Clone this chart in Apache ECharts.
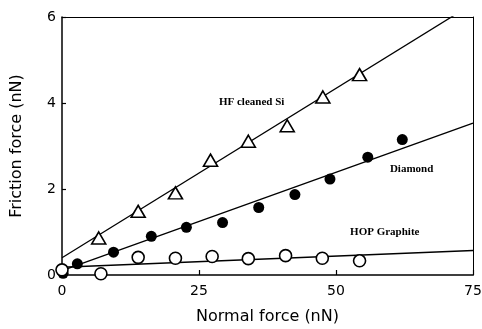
<!DOCTYPE html>
<html><head><meta charset="utf-8">
<script src="https://cdn.jsdelivr.net/npm/echarts@6/dist/echarts.min.js"></script>
<style>html,body{margin:0;padding:0;background:#fff}#c{width:482px;height:329px}</style>
</head><body><div id="c"></div>
<script>
// Data (Normal force nN, Friction force nN)
const hfSiX = [6.7, 13.9, 20.7, 27.1, 34.0, 41.1, 47.6, 54.3];
const hfSiY = [0.86, 1.48, 1.91, 2.67, 3.11, 3.47, 4.14, 4.66];
const diamondX = [0.2, 2.8, 9.4, 16.3, 22.7, 29.3, 35.9, 42.5, 48.9, 55.8, 62.1];
const diamondY = [0.04, 0.26, 0.53, 0.90, 1.11, 1.22, 1.57, 1.87, 2.23, 2.74, 3.15];
const graphiteX = [0.0, 7.1, 13.9, 20.7, 27.4, 34.0, 40.8, 47.5, 54.3];
const graphiteY = [0.12, 0.03, 0.41, 0.39, 0.43, 0.38, 0.45, 0.39, 0.33];
// Linear fit lines (endpoints)
const fitX = [0, 75];
const hfSiFit = [0.40, 6.31];
const diamondFit = [0.10, 3.53];
const graphiteFit = [0.18, 0.57];
// Annotations
const labelText = ['HF cleaned Si', 'Diamond', 'HOP Graphite'];
const labelX = [34.6, 63.8, 58.9];
const labelY = [4.02, 2.45, 0.99];
const xTicks = [0, 25, 50, 75];
const yTicks = [0, 2, 4, 6];

const pairs = (xs, ys) => xs.map((x, i) => [x, ys[i]]);
const chart = echarts.init(document.getElementById('c'));
const axFont = 'DejaVu Sans';
chart.setOption({
  animation: false,
  backgroundColor: '#fff',
  grid: { left: 62, right: 9, top: 17, bottom: 54, containLabel: false, outerBoundsMode: 'none' },
  xAxis: [{
    type: 'value', min: xTicks[0], max: xTicks[xTicks.length - 1], interval: 25,
    name: 'Normal force (nN)', nameLocation: 'middle', nameGap: 34,
    nameTextStyle: { fontFamily: axFont, fontSize: 16, color: '#000' },
    axisLine: { lineStyle: { color: '#000', width: 1.5 } },
    axisTick: { inside: true, length: 5, lineStyle: { color: '#000', width: 1.2 } },
    axisLabel: { fontFamily: axFont, fontSize: 14, color: '#000', margin: 9 },
    splitLine: { show: false }
  }, {
    type: 'value', position: 'top', min: 0, max: 75,
    axisLine: { show: true, onZero: false, lineStyle: { color: '#000', width: 1 } },
    axisTick: { show: false }, axisLabel: { show: false }, splitLine: { show: false }
  }],
  yAxis: [{
    type: 'value', min: yTicks[0], max: yTicks[yTicks.length - 1], interval: 2,
    name: 'Friction force (nN)', nameLocation: 'middle', nameGap: 37,
    nameTextStyle: { fontFamily: axFont, fontSize: 16, color: '#000' },
    axisLine: { show: true, lineStyle: { color: '#000', width: 1.5 } },
    axisTick: { show: true, inside: true, length: 4, lineStyle: { color: '#000', width: 1.2 } },
    axisLabel: { fontFamily: axFont, fontSize: 14, color: '#000', margin: 6 },
    splitLine: { show: false }
  }, {
    type: 'value', position: 'right', min: 0, max: 6,
    axisLine: { show: true, onZero: false, lineStyle: { color: '#000', width: 1 } },
    axisTick: { show: false }, axisLabel: { show: false }, splitLine: { show: false }
  }],
  series: [
    { type: 'line', data: pairs(fitX, hfSiFit), showSymbol: false, symbol: 'none', clip: true,
      lineStyle: { color: '#000', width: 1.3 }, z: 2 },
    { type: 'line', data: pairs(fitX, diamondFit), showSymbol: false, symbol: 'none', clip: true,
      lineStyle: { color: '#000', width: 1.3 }, z: 2 },
    { type: 'line', data: pairs(fitX, graphiteFit), showSymbol: false, symbol: 'none', clip: true,
      lineStyle: { color: '#000', width: 1.3 }, z: 2 },
    { type: 'scatter', data: pairs(hfSiX, hfSiY), symbol: 'triangle', symbolSize: [14, 12],
      itemStyle: { color: '#fff', borderColor: '#000', borderWidth: 1.6, opacity: 1 }, z: 3 },
    { type: 'scatter', data: pairs(diamondX, diamondY), symbol: 'circle', symbolSize: 11,
      itemStyle: { color: '#000', borderColor: '#000', borderWidth: 0, opacity: 1 }, z: 3 },
    { type: 'scatter', data: pairs(graphiteX, graphiteY), symbol: 'circle', symbolSize: 12,
      itemStyle: { color: '#fff', borderColor: '#000', borderWidth: 1.6, opacity: 1 }, z: 4 },
    { type: 'scatter', data: labelX.map((x, i) => ({ value: [x, labelY[i]], name: labelText[i] })),
      symbolSize: 0, silent: true, itemStyle: { opacity: 1 },
      label: { show: true, position: 'inside', formatter: p => p.name,
        fontFamily: 'Liberation Serif', fontWeight: 'bold', fontSize: 11, color: '#000' }, z: 5 }
  ]
});
</script></body></html>
